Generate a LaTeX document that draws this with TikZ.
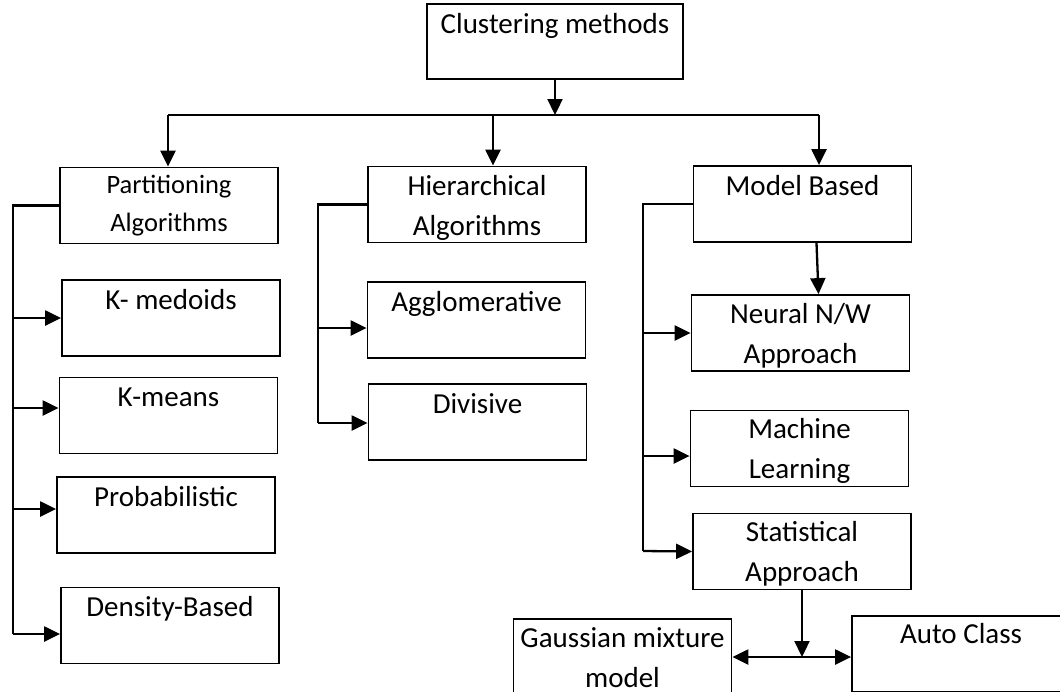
\documentclass[tikz,border=0pt]{standalone}
\usepackage{fontspec}
\setmainfont{Carlito}
\usetikzlibrary{arrows.meta}
% first-line strut: puts the first baseline a fixed distance below a box top
\newcommand\topgap[1][30pt]{\rule{0pt}{#1}}
\begin{document}
\begin{tikzpicture}[x=1pt,y=-1pt,
  box/.style={draw, line width=1.8pt, minimum width=218pt, minimum height=76pt,
    inner sep=0pt, label distance=0pt},
  lbl/.style={font=\fontsize{29}{40}\selectfont, align=center, anchor=north, inner sep=0pt},
  small/.style={font=\fontsize{26.5}{38}\selectfont},
  wire/.style={line width=2.3pt},
  tip/.tip={Triangle[length=16pt,width=15pt]},
  arr/.style={wire, -tip}]
\useasboundingbox (0,0) rectangle (1060,691);
\clip (0,0) rectangle (1060,691);
\fill[white] (0,0) rectangle (1060,691);

% root
\node[box, minimum width=256pt, minimum height=75pt,
  label={[lbl]north:\topgap Clustering methods}] (cm) at (555,41.5) {};

% three families
\node[box, label={[lbl, small]north:\topgap[27pt]Partitioning\\Algorithms}] (pa) at (169,205.5) {};
\node[box, label={[lbl]north:\topgap Hierarchical\\Algorithms}] (hi) at (477,204.5) {};
\node[box, label={[lbl]north:\topgap Model Based}] (mb) at (802.5,204) {};

% partitioning methods
\node[box, label={[lbl]north:\topgap K- medoids}] (kmd) at (171,318) {};
\node[box, label={[lbl]north:\topgap K-means}] (kmn) at (168.5,415.5) {};
\node[box, label={[lbl]north:\topgap Probabilistic}] (pr) at (166,515) {};
\node[box, label={[lbl]north:\topgap Density-Based}] (db) at (170,625.5) {};

% hierarchical methods
\node[box, label={[lbl]north:\topgap Agglomerative}] (ag) at (476.5,320) {};
\node[box, label={[lbl]north:\topgap Divisive}] (dv) at (477.5,422) {};

% model based methods
\node[box, label={[lbl]north:\topgap[29pt]Neural N/W\\Approach}] (nn) at (800.5,333) {};
\node[box, label={[lbl]north:\topgap[29pt]Machine\\Learning}] (ml) at (799.5,448.5) {};
\node[box, label={[lbl]north:\topgap[29pt]Statistical\\Approach}] (sa) at (802,551.5) {};

% statistical approaches
\node[box, label={[lbl]north:\topgap[29pt]Gaussian mixture\\model}] (gm) at (622.5,657) {};
\node[box, label={[lbl]north:\topgap[28pt]Auto Class}] (ac) at (961,654) {};

% root split
\coordinate (tL) at (168,115);
\coordinate (tM) at (493,115);
\coordinate (tR) at (819,115);
\coordinate (split) at (555,115);
\draw[arr] (cm.south) -- (split);
\draw[wire] (tL) -- (tR);
\draw[arr] (tL) -- (tL |- pa.north);
\draw[arr] (tM) -- (tM |- hi.north);
\draw[arr] (tR) -- (tR |- mb.north);

% partitioning bracket
\coordinate (pbot) at (13,634);
\coordinate (kmnIn) at ([yshift=7.5pt]kmn.west);
\coordinate (prIn) at ([yshift=6pt]pr.west);
\coordinate (dbIn) at ([yshift=-8.5pt]db.west);
\draw[wire] (pa.west) -| (pbot);
\draw[arr] (pbot |- kmd.west) -- (kmd.west);
\draw[arr] (pbot |- kmnIn) -- (kmnIn);
\draw[arr] (pbot |- prIn) -- (prIn);
\draw[arr] (pbot) -- (dbIn);

% hierarchical bracket
\coordinate (hbot) at (318,423);
\coordinate (agIn) at ([yshift=-8pt]ag.west);
\coordinate (dvIn) at ([yshift=-1pt]dv.west);
\draw[wire] (hi.west) -| (hbot);
\draw[arr] (hbot |- agIn) -- (agIn);
\draw[arr] (hbot) -- (dvIn);

% model based bracket
\coordinate (mbot) at (643,551);
\coordinate (mlIn) at ([yshift=-7.5pt]ml.west);
\draw[wire] (mb.west) -| (mbot);
\draw[arr] (mbot |- nn.west) -- (nn.west);
\draw[arr] (mbot |- mlIn) -- (mlIn);
\draw[arr] (mbot) -- (sa.west);
\draw[arr] ([xshift=14pt]mb.south) -- ([xshift=18pt]nn.north);

% statistical split
\coordinate (jn) at (802,657);
\draw[arr] (sa.south) -- (jn);
\draw[wire, tip-tip] (gm.east) -- (gm.east -| ac.west);
\end{tikzpicture}
\end{document}
